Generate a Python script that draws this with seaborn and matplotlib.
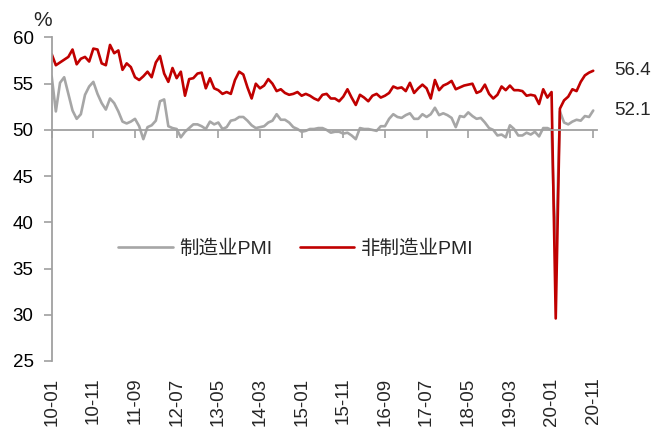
import numpy as np
import pandas as pd
import matplotlib
matplotlib.use('Agg')
import matplotlib.pyplot as plt
import seaborn as sns

# monthly PMI, 2010-01 .. 2020-11
months = pd.period_range('2010-01', '2020-11', freq='M').strftime('%y-%m').tolist()

mfg_pmi = [
    55.8, 52.0, 55.1, 55.7, 53.9, 52.1, 51.2, 51.7, 53.8, 54.7, 55.2, 53.9,
    52.9, 52.2, 53.4, 52.9, 52.0, 50.9, 50.7, 50.9, 51.2, 50.4, 49.0, 50.3,
    50.5, 51.0, 53.1, 53.3, 50.4, 50.2, 50.1, 49.2, 49.8, 50.2, 50.6, 50.6,
    50.4, 50.1, 50.9, 50.6, 50.8, 50.1, 50.3, 51.0, 51.1, 51.4, 51.4, 51.0,
    50.5, 50.2, 50.3, 50.4, 50.8, 51.0, 51.7, 51.1, 51.1, 50.8, 50.3, 50.1,
    49.8, 49.9, 50.1, 50.1, 50.2, 50.2, 50.0, 49.7, 49.8, 49.8, 49.6, 49.7,
    49.4, 49.0, 50.2, 50.1, 50.1, 50.0, 49.9, 50.4, 50.4, 51.2, 51.7, 51.4,
    51.3, 51.6, 51.8, 51.2, 51.2, 51.7, 51.4, 51.7, 52.4, 51.6, 51.8, 51.6,
    51.3, 50.3, 51.5, 51.4, 51.9, 51.5, 51.2, 51.3, 50.8, 50.2, 50.0, 49.4,
    49.5, 49.2, 50.5, 50.1, 49.4, 49.4, 49.7, 49.5, 49.8, 49.3, 50.2, 50.2,
    50.0, 35.7, 52.0, 50.8, 50.6, 50.9, 51.1, 51.0, 51.5, 51.4, 52.1,
]

non_mfg_pmi = [
    58.2, 57.0, 57.3, 57.6, 57.9, 58.7, 57.1, 57.7, 57.9, 57.4, 58.8, 58.7,
    57.2, 57.0, 59.2, 58.3, 58.6, 56.5, 57.2, 56.8, 55.7, 55.4, 55.8, 56.3,
    55.7, 57.3, 58.0, 56.1, 55.2, 56.7, 55.6, 56.3, 53.7, 55.5, 55.6, 56.1,
    56.2, 54.5, 55.6, 54.5, 54.3, 53.9, 54.1, 53.9, 55.4, 56.3, 56.0, 54.6,
    53.4, 55.0, 54.5, 54.8, 55.5, 55.0, 54.2, 54.4, 54.0, 53.8, 53.9, 54.1,
    53.7, 53.9, 53.7, 53.4, 53.2, 53.8, 53.9, 53.4, 53.4, 53.1, 53.6, 54.4,
    53.5, 52.7, 53.8, 53.5, 53.1, 53.7, 53.9, 53.5, 53.7, 54.0, 54.7, 54.5,
    54.6, 54.2, 55.1, 54.0, 54.5, 54.9, 54.5, 53.4, 55.4, 54.3, 54.8, 55.0,
    55.3, 54.4, 54.6, 54.8, 54.9, 55.0, 54.0, 54.2, 54.9, 53.9, 53.4, 53.8,
    54.7, 54.3, 54.8, 54.3, 54.3, 54.2, 53.7, 53.8, 53.7, 52.8, 54.4, 53.5,
    54.1, 29.6, 52.3, 53.2, 53.6, 54.4, 54.2, 55.2, 55.9, 56.2, 56.4,
]

series_names = ['制造业PMI', '非制造业PMI']
colors = ['#A6A6A6', '#C00000']

sns.set_style('white')
plt.rcParams['font.family'] = ['Liberation Sans', 'Noto Sans CJK SC', 'DejaVu Sans']

idx = np.arange(len(months))
fig = plt.figure(figsize=(6.51, 4.30), dpi=100)
ax = fig.add_axes([0.0794, 0.1605, 0.917 - 0.0794, 0.9128 - 0.1605])

for vals, name, c in zip([mfg_pmi, non_mfg_pmi], series_names, colors):
    sns.lineplot(x=idx, y=vals, color=c, linewidth=1.9, label=name, ax=ax)

ax.set_ylim(25, 60)
ax.set_yticks(np.arange(25, 61, 5))
ax.set_xlim(0, 130.9)
ax.set_xticks(idx[::10])
ax.set_xticklabels([])

axis_grey = '#A0A0A0'
for s in ['top', 'right']:
    ax.spines[s].set_visible(False)
ax.spines['left'].set_color(axis_grey)
ax.spines['left'].set_linewidth(1.3)
ax.spines['bottom'].set_position(('data', 50))
ax.spines['bottom'].set_color(axis_grey)
ax.spines['bottom'].set_linewidth(1.3)
ax.tick_params(axis='y', left=True, direction='out', length=6, width=1.2, color=axis_grey,
               labelsize=13.5, pad=7, labelcolor='black')
ax.tick_params(axis='x', bottom=True, direction='out', length=6, width=1.2, color=axis_grey)
ax.set_ylabel('')

# labels stay at the bottom while the axis line sits at 50
sec = ax.secondary_xaxis(0)
sec.set_xticks(idx[::10])
sec.set_xticklabels([months[i] for i in idx[::10]], rotation=90, fontsize=13.5)
sec.tick_params(length=0, pad=12)
sec.spines['bottom'].set_visible(False)

fig.text(33 / 651, 1 - 20 / 430, '%', fontsize=15, ha='left', va='center')

for vals in [non_mfg_pmi, mfg_pmi]:
    ax.annotate(f'{vals[-1]:.1f}', xy=(idx[-1], vals[-1]), xytext=(15, 0),
                textcoords='offset points', fontsize=13.5, va='center', ha='left',
                annotation_clip=False)

ax.legend(loc='center left', bbox_to_anchor=(0.155, 0.421), bbox_transform=fig.transFigure,
          ncol=2, frameon=False, fontsize=14, handlelength=2.8, handletextpad=0.35,
          columnspacing=1.4)

fig.savefig('out.png', dpi=100)
